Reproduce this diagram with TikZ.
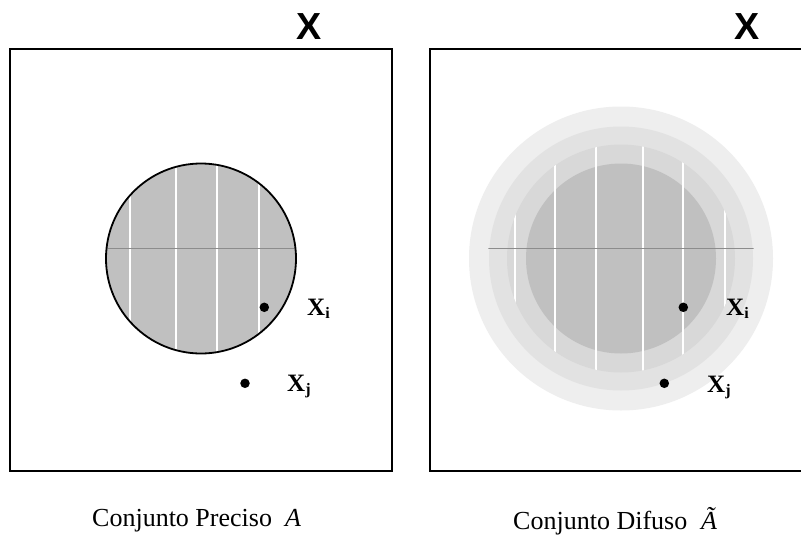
\documentclass[tikz,border=0pt]{standalone}
\usepackage{fontspec}
\setmainfont{Liberation Serif}
\newfontfamily\arialfont{Liberation Sans}
\definecolor{diskgray}{RGB}{192,192,192}
\definecolor{ringA}{RGB}{216,216,216}
\definecolor{ringB}{RGB}{226,226,226}
\definecolor{ringC}{RGB}{238,238,238}
\definecolor{midline}{RGB}{140,140,140}
\tikzset{
  frame/.style={line width=2pt, line join=miter},
  dotmark/.style={circle, fill=black, inner sep=0pt, minimum size=9.5pt},
  ptlabel/.style={inner sep=0pt, anchor=base west, font=\fontsize{25}{28}\selectfont\bfseries},
  universe/.style={inner sep=0pt, anchor=base, font=\fontsize{37.7}{40}\selectfont\arialfont\bfseries},
  caption/.style={inner sep=0pt, anchor=base west, font=\fontsize{26}{30}\selectfont},
  whiteline/.style={white, line width=1.1pt},
  hline/.style={midline, line width=0.9pt}
}
\newcommand{\subx}[1]{\raisebox{-3pt}{\fontsize{16}{16}\selectfont\bfseries #1}}
\begin{document}
\begin{tikzpicture}[x=1pt,y=-1pt]
\useasboundingbox (0,0) rectangle (801,536);
\fill[white] (0,0) rectangle (801,536);

% ---------- left panel: crisp set ----------
\draw[frame] (10,49) rectangle (392,470.5);
\coordinate (cL) at (201,258.5);
\fill[diskgray] (cL) circle[radius=95pt];
\begin{scope}
  \clip (cL) circle[radius=95pt];
  \foreach \x in {130,176,217,259} \draw[whiteline] (\x,150) -- (\x,370);
  \draw[hline] (100,248) -- (310,248);
\end{scope}
\draw[line width=1.8pt] (cL) circle[radius=95pt];

\node[universe] (XL) at (309.5,39) {X};
\node[dotmark] (piL) at (264.3,307.3) {};
\node[dotmark] (pjL) at (245,383.3) {};
\node[ptlabel] (liL) at (307,315) {X\subx{i}};
\node[ptlabel] (ljL) at (287,391) {X\subx{j}};
\node[caption] (capL) at (92,526.5) {Conjunto Preciso};
\node[caption] (AL) at (285,526.5) {\itshape A};

% ---------- right panel: fuzzy set ----------
\draw[frame] (801,49) -- (430,49) -- (430,470.5) -- (801,470.5);
\coordinate (cR) at (621,258.5);
\fill[ringC] (cR) circle[radius=152pt];
\fill[ringB] (cR) circle[radius=132pt];
\fill[ringA] (cR) circle[radius=114pt];
\fill[diskgray] (cR) circle[radius=95pt];
\begin{scope}
  \clip (cR) circle[radius=114pt];
  \foreach \x in {515,555,596,643,683,725} \draw[whiteline] (\x,140) -- (\x,380);
\end{scope}
\begin{scope}
  \clip (cR) circle[radius=133pt];
  \draw[hline] (480,248) -- (760,248);
\end{scope}

\node[universe] (XR) at (747.5,39) {X};
\node[dotmark] (piR) at (683.3,307.3) {};
\node[dotmark] (pjR) at (664.3,383.3) {};
\node[ptlabel] (liR) at (726,315) {X\subx{i}};
\node[ptlabel] (ljR) at (707,392) {X\subx{j}};
\node[caption] (capR) at (513,529) {Conjunto Difuso};
\node[caption] (AR) at (701,529) {\itshape Ã};
\end{tikzpicture}
\end{document}
